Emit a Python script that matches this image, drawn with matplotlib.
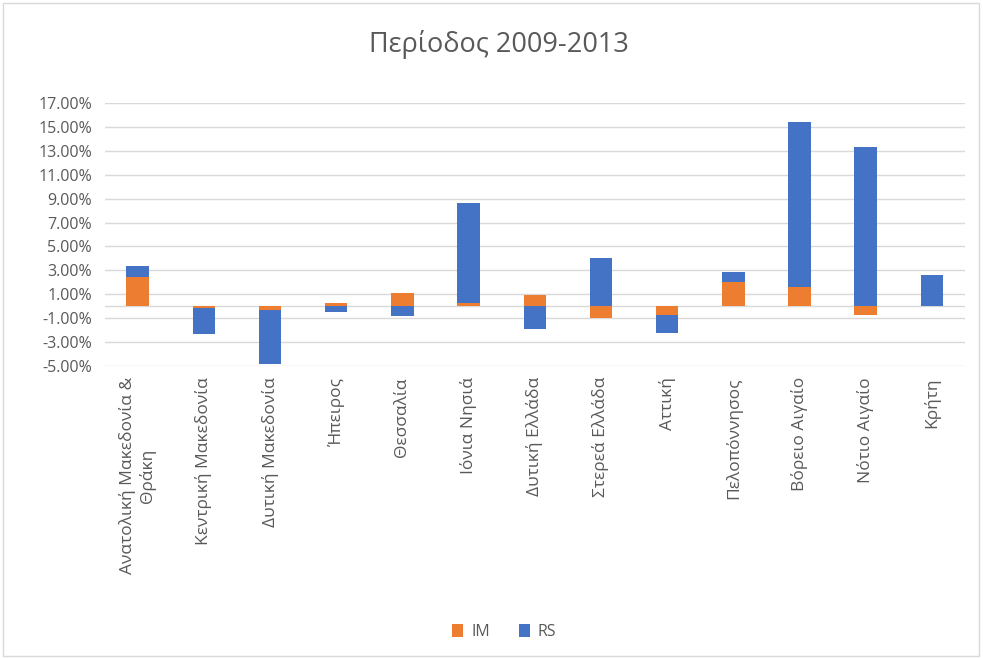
import numpy as np
import matplotlib
matplotlib.use("Agg")
import matplotlib.pyplot as plt
from matplotlib.ticker import FuncFormatter
from matplotlib.patches import Rectangle

plt.rcParams['font.family'] = ['Open Sans', 'DejaVu Sans']

categories = ["Ανατολική Μακεδονία &\nΘράκη", "Κεντρική Μακεδονία", "Δυτική Μακεδονία",
              "Ήπειρος", "Θεσσαλία", "Ιόνια Νησιά", "Δυτική Ελλάδα", "Στερεά Ελλάδα",
              "Αττική", "Πελοπόννησος", "Βόρειο Αιγαίο", "Νότιο Αιγαίο", "Κρήτη"]
im_values = [2.45, -0.15, -0.30, 0.30, 1.10, 0.30, 0.90, -1.00, -0.75, 2.05, 1.60, -0.70, 0.00]
rs_values = [0.95, -2.15, -4.50, -0.50, -0.80, 8.30, -1.90, 4.00, -1.50, 0.85, 13.80, 13.30, 2.65]
legend_labels = ["IM", "RS"]
title = "Περίοδος 2009-2013"

im = np.array(im_values)
rs = np.array(rs_values)
rs_bottom = np.where(im * rs > 0, im, 0.0)

fig = plt.figure(figsize=(9.83, 6.59), dpi=100)
ax = fig.add_axes([0.1064, 0.4446, 0.8753, 0.3991])

x = np.arange(len(categories))
c_or = "#ED7D31"
c_bl = "#4472C4"
ax.bar(x, im, width=0.34, color=c_or, label=legend_labels[0], zorder=3)
ax.bar(x, rs, width=0.34, bottom=rs_bottom, color=c_bl, label=legend_labels[1], zorder=3)

ax.set_xlim(-0.5, len(categories) - 0.5)
ax.set_ylim(-5, 17)
ax.set_yticks(np.arange(-5, 17.1, 2))
ax.yaxis.set_major_formatter(FuncFormatter(lambda v, p: f"{v:.2f}%"))
ax.grid(axis='y', color='#d9d9d9', linewidth=1.0, zorder=0)
ax.axhline(0, color='#d9d9d9', linewidth=1.0, zorder=1)
for s in ax.spines.values():
    s.set_visible(False)
ax.tick_params(axis='y', length=0, labelsize=11.5, labelcolor='#595959', pad=9)
ax.tick_params(axis='x', length=0, labelsize=12.5, labelcolor='#595959', pad=8)
ax.set_xticks(x)
ax.set_xticklabels(categories, rotation=90, va='top', ha='center', multialignment='center')

fig.text(0.508, 0.932, title, ha='center', va='center', fontsize=19.5, color='#595959')

leg = fig.legend(loc='center', bbox_to_anchor=(0.513, 0.041), ncol=2, frameon=False,
                 fontsize=11.5, handlelength=0.7, handleheight=0.9, columnspacing=1.8,
                 handletextpad=0.5)
for t in leg.get_texts():
    t.set_color('#595959')

fig.patches.append(Rectangle((0.003, 0.005), 0.993, 0.99, transform=fig.transFigure,
                             fill=False, edgecolor='#d9d9d9', linewidth=1.0))

fig.savefig("out.png", dpi=100)
